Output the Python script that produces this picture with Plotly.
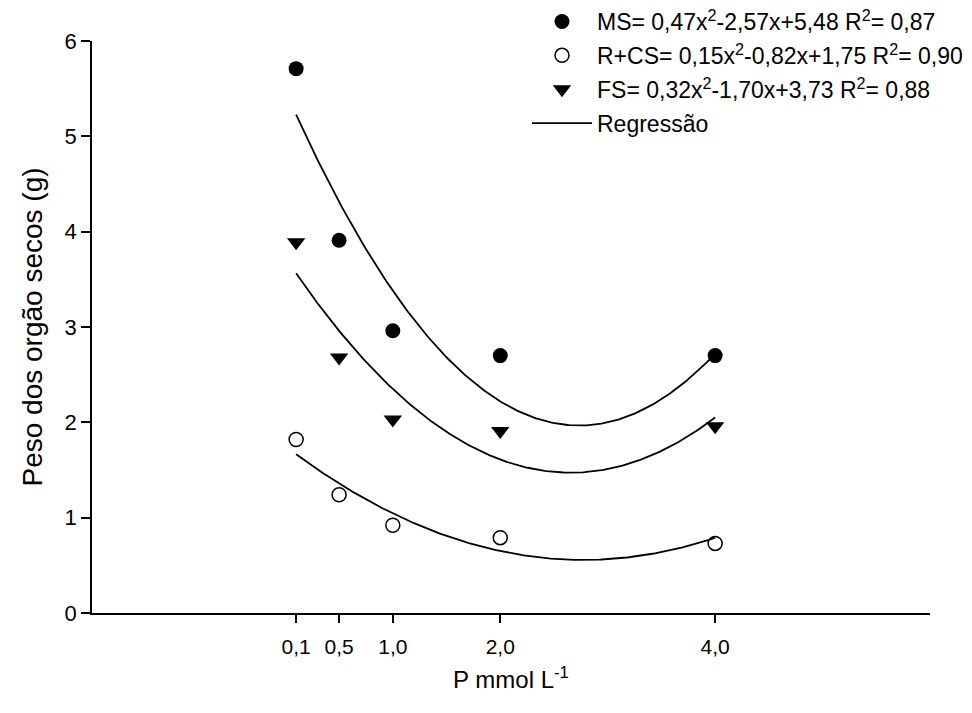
import numpy as np
import plotly.graph_objects as go

# Data
p_levels = [0.1, 0.5, 1.0, 2.0, 4.0]
p_labels = ["0,1", "0,5", "1,0", "2,0", "4,0"]
ms_values = [5.71, 3.91, 2.96, 2.70, 2.70]
rcs_values = [1.82, 1.24, 0.92, 0.79, 0.73]
fs_values = [3.89, 2.68, 2.03, 1.91, 1.96]

# Regression curves as drawn (a, b, c) for y = a x^2 + b x + c
ms_coef = [0.47, -2.57, 5.48]
rcs_coef = [0.155, -0.86, 1.75]
fs_coef = [0.32, -1.70, 3.73]

ms_name = "MS= 0,47x<sup>2</sup>-2,57x+5,48 R<sup>2</sup>= 0,87"
rcs_name = "R+CS= 0,15x<sup>2</sup>-0,82x+1,75 R<sup>2</sup>= 0,90"
fs_name = "FS= 0,32x<sup>2</sup>-1,70x+3,73 R<sup>2</sup>= 0,88"

FONT = "Liberation Sans, Arial, sans-serif"

xs = np.linspace(min(p_levels), max(p_levels), 200)


def curve(c):
    return c[0] * xs ** 2 + c[1] * xs + c[2]


fig = go.Figure()

fig.add_trace(go.Scatter(x=p_levels, y=ms_values, mode="markers", name=ms_name,
                         legendgroup="g1",
                         marker=dict(symbol="circle", size=15, color="black",
                                     line=dict(width=0))))
fig.add_trace(go.Scatter(x=p_levels, y=rcs_values, mode="markers", name=rcs_name,
                         legendgroup="g2",
                         marker=dict(symbol="circle-open", size=14, color="black",
                                     line=dict(width=1.5, color="black"))))
fig.add_trace(go.Scatter(x=p_levels, y=fs_values, mode="markers", name=fs_name,
                         legendgroup="g3",
                         marker=dict(symbol="triangle-down", size=16, color="black",
                                     line=dict(width=0))))

for i, c in enumerate([ms_coef, fs_coef, rcs_coef]):
    fig.add_trace(go.Scatter(x=xs, y=curve(c), mode="lines", name="Regressão",
                             legendgroup="g4", showlegend=(i == 0),
                             line=dict(color="black", width=1.8)))

# Layout geometry (pixels)
W, HGT = 972, 713
ML, MB = 92, 100
PW = W - ML          # paper width (right margin 0)
PH = HGT - MB        # paper height (top margin 0)
PLOT_RIGHT = 930
PLOT_TOP = 41

fig.update_layout(
    width=W, height=HGT,
    margin=dict(l=ML, r=0, t=0, b=MB, autoexpand=False),
    paper_bgcolor="white", plot_bgcolor="rgba(0,0,0,0)",
    font=dict(family=FONT, size=22, color="black"),
    showlegend=True,
    legend=dict(x=(527 - ML) / PW, y=1.0, xanchor="left", yanchor="top",
                bgcolor="rgba(0,0,0,0)", font=dict(family=FONT, size=23),
                tracegroupgap=1, itemwidth=60),
    xaxis=dict(range=[-1.8, 6.0], domain=[0, (PLOT_RIGHT - ML) / PW],
               automargin=False,
               tickmode="array", tickvals=p_levels,
               ticktext=p_labels, ticks="outside", ticklen=8, tickwidth=1.5,
               tickcolor="black", showline=True, linecolor="black", linewidth=1.5,
               showgrid=False, zeroline=False, ticklabelstandoff=6,
               tickfont=dict(family=FONT, size=21),
               title=dict(text="P mmol L<sup>-1</sup>", font=dict(family=FONT, size=24),
                          standoff=14)),
    yaxis=dict(range=[0, 6], domain=[0, 1 - PLOT_TOP / PH], automargin=False,
               tickmode="array",
               tickvals=[0, 1, 2, 3, 4, 5, 6],
               ticks="outside", ticklen=9, tickwidth=1.5, tickcolor="black",
               showline=True, linecolor="black", linewidth=1.5,
               showgrid=False, zeroline=False,
               tickfont=dict(family=FONT, size=22),
               title=dict(text="Peso dos orgão secos (g)", font=dict(family=FONT, size=28),
                          standoff=14)),
)

fig.write_html("out.html")
